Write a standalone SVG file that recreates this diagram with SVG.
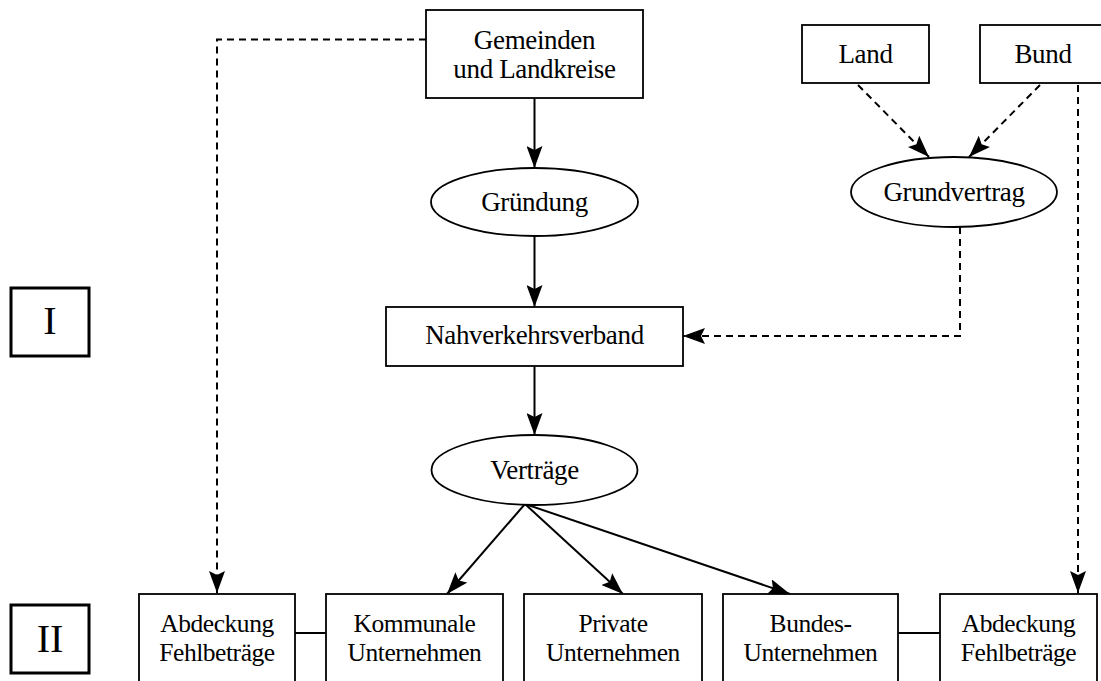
<svg xmlns="http://www.w3.org/2000/svg" width="1101" height="681" viewBox="0 0 1101 681">
<style>
  .box { fill: #fff; stroke: #000; stroke-width: 1.8; }
  .lvl { fill: #fff; stroke: #000; stroke-width: 3; }
  .ell { fill: #fff; stroke: #000; stroke-width: 1.8; }
  .t { font-family: "Liberation Serif", "Times New Roman", serif; font-size: 27px; letter-spacing: -0.35px; fill: #000; text-anchor: middle; }
  .tb { font-family: "Liberation Serif", "Times New Roman", serif; font-size: 25.5px; letter-spacing: -0.45px; fill: #000; text-anchor: middle; }
  .tl { font-family: "Liberation Serif", "Times New Roman", serif; font-size: 40px; fill: #000; text-anchor: middle; }
  .solid { fill: none; stroke: #000; stroke-width: 2; }
  .dash { fill: none; stroke: #000; stroke-width: 2; stroke-dasharray: 7 5; }
</style>
<defs>
  <marker id="arr" viewBox="0 0 22 16" refX="22" refY="8" markerWidth="22" markerHeight="16" markerUnits="userSpaceOnUse" orient="auto">
    <path d="M0,0 L22,8 L0,16 L4,8 Z" fill="#000" stroke="none"/>
  </marker>
</defs>
<rect width="1101" height="681" fill="#fff"/>

<g id="connectors">
  <path class="dash" d="M426,39.5 H217 V593" marker-end="url(#arr)"/>
  <path class="solid" d="M534.5,98 V168" marker-end="url(#arr)"/>
  <path class="dash" d="M858,85 L929,157" marker-end="url(#arr)"/>
  <path class="dash" d="M1040,85 L969,157" marker-end="url(#arr)"/>
  <path class="dash" d="M1078,85 V593" marker-end="url(#arr)"/>
  <path class="solid" d="M534.5,236 V307" marker-end="url(#arr)"/>
  <path class="dash" d="M960,227 V336 H683" marker-end="url(#arr)"/>
  <path class="solid" d="M534.5,366 V435" marker-end="url(#arr)"/>
  <path class="solid" d="M525,504 L447,594" marker-end="url(#arr)"/>
  <path class="solid" d="M525,504 L623,594" marker-end="url(#arr)"/>
  <path class="solid" d="M525,504 L790,594" marker-end="url(#arr)"/>
  <path class="solid" d="M295,633 H326"/>
  <path class="solid" d="M898,633 H940"/>
</g>

<g id="level-I">
  <rect class="lvl" x="11" y="288" width="78" height="68"/>
  <text class="tl" x="50" y="334">I</text>
</g>
<g id="level-II">
  <rect class="lvl" x="11" y="605" width="78" height="68"/>
  <text class="tl" x="50" y="652">II</text>
</g>

<g id="gemeinden">
  <rect class="box" x="426" y="10" width="217" height="88"/>
  <text class="t" x="534.5" y="49">Gemeinden</text>
  <text class="t" x="534.5" y="78">und Landkreise</text>
</g>
<g id="land">
  <rect class="box" x="802" y="25" width="127" height="58"/>
  <text class="t" x="865.5" y="62.5">Land</text>
</g>
<g id="bund">
  <rect class="box" x="980" y="25" width="130" height="58"/>
  <text class="t" x="1043" y="62.5">Bund</text>
</g>
<g id="gruendung">
  <ellipse class="ell" cx="534.5" cy="202" rx="103.5" ry="34"/>
  <text class="t" x="534.5" y="211">Gründung</text>
</g>
<g id="grundvertrag">
  <ellipse class="ell" cx="954" cy="192" rx="103" ry="35"/>
  <text class="t" x="954" y="201">Grundvertrag</text>
</g>
<g id="nahverkehrsverband">
  <rect class="box" x="386" y="307" width="297" height="59"/>
  <text class="t" x="534.5" y="344">Nahverkehrsverband</text>
</g>
<g id="vertraege">
  <ellipse class="ell" cx="534.5" cy="470" rx="103" ry="35"/>
  <text class="t" x="534.5" y="479">Verträge</text>
</g>
<g id="abdeckung-links">
  <rect class="box" x="139" y="594" width="156" height="100"/>
  <text class="tb" x="217" y="632">Abdeckung</text>
  <text class="tb" x="217" y="661">Fehlbeträge</text>
</g>
<g id="kommunale">
  <rect class="box" x="326" y="594" width="177" height="100"/>
  <text class="tb" x="414.5" y="632">Kommunale</text>
  <text class="tb" x="414.5" y="661">Unternehmen</text>
</g>
<g id="private">
  <rect class="box" x="524" y="594" width="178" height="100"/>
  <text class="tb" x="613" y="632">Private</text>
  <text class="tb" x="613" y="661">Unternehmen</text>
</g>
<g id="bundes">
  <rect class="box" x="723" y="594" width="175" height="100"/>
  <text class="tb" x="810.5" y="632">Bundes-</text>
  <text class="tb" x="810.5" y="661">Unternehmen</text>
</g>
<g id="abdeckung-rechts">
  <rect class="box" x="940" y="594" width="157" height="100"/>
  <text class="tb" x="1018.5" y="632">Abdeckung</text>
  <text class="tb" x="1018.5" y="661">Fehlbeträge</text>
</g>
</svg>
